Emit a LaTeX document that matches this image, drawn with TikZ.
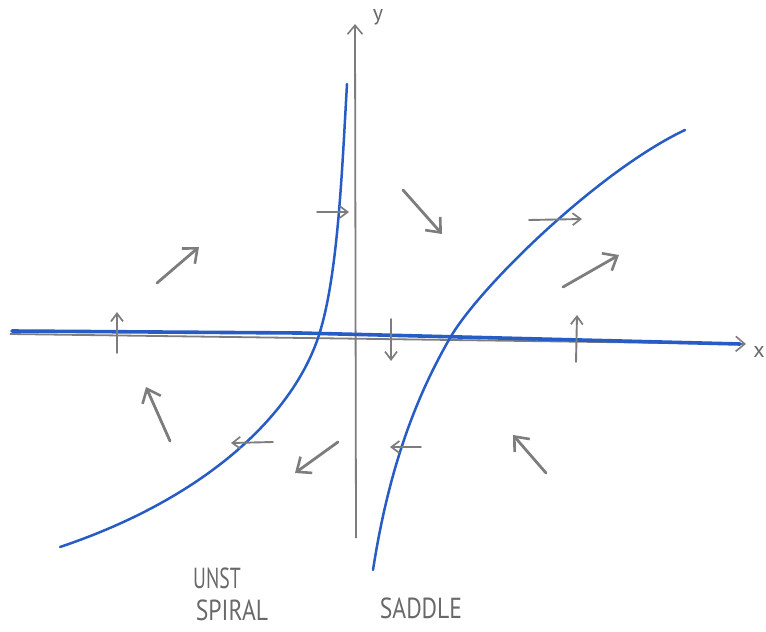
\documentclass[tikz,border=0pt]{standalone}
\usepackage{fontspec}
\setmainfont{PT Sans}
\usetikzlibrary{arrows.meta}
\definecolor{pen}{RGB}{125,125,125}
\definecolor{ink}{RGB}{38,92,196}
\definecolor{txt}{RGB}{105,105,105}
\tikzset{
  axisline/.style={draw=pen, line width=1.8pt, -{Straight Barb[length=9pt,width=15pt,line width=1.6pt]}},
  flow/.style={draw=pen, line width=2.8pt, line cap=round, -{Straight Barb[length=12pt,width=20pt,line width=2.6pt]}},
  smallflow/.style={draw=pen, line width=1.9pt, line cap=round, -{Straight Barb[length=8pt,width=12pt,line width=1.7pt]}},
  orbit/.style={draw=ink, line width=2.5pt, line cap=round},
  lbl/.style={text=txt, font=\fontsize{29}{29}\selectfont, inner sep=0pt, xscale=0.68}
}
\begin{document}
\begin{tikzpicture}[x=1pt,y=-1pt]
\useasboundingbox (0,0) rectangle (766,632);
% axes
\coordinate (xs) at (10,334);
\coordinate (xe) at (746,344);
\coordinate (ys) at (356,538);
\coordinate (ye) at (355,24);
\draw[axisline] (xs) -- (xe);
\draw[axisline] (ys) -- (ye);
\node[text=txt, font=\fontsize{22}{22}\selectfont, inner sep=0pt] (xl) at (759,352) {x};
\node[text=txt, font=\fontsize{22}{22}\selectfont, inner sep=0pt] (yl) at (378,17) {y};
% blue x-axis invariant line
\draw[ink, line width=3.6pt, line cap=round] (12,331) -- (300,333) -- (740,344);
% left orbit
\draw[orbit] (60,547) .. controls (200,500) and (290,420) .. (318,338)
                      .. controls (338,279) and (342,170) .. (347,84);
% right orbit
\draw[orbit] (373,570) .. controls (390,460) and (420,390) .. (450,338)
                       .. controls (480,286) and (600,170) .. (685,130);
% flow arrows
\coordinate (a1s) at (157,283); \coordinate (a1e) at (199,247);
\coordinate (a2s) at (317,212); \coordinate (a2e) at (349,212);
\coordinate (a3s) at (403,190); \coordinate (a3e) at (442,234);
\coordinate (a4s) at (529,220); \coordinate (a4e) at (582,219);
\coordinate (a5s) at (563,287); \coordinate (a5e) at (619,255);
\coordinate (a6s) at (117,353); \coordinate (a6e) at (117,312);
\coordinate (a7s) at (391,319); \coordinate (a7e) at (391,361);
\coordinate (a8s) at (576,362); \coordinate (a8e) at (577,315);
\coordinate (a9s) at (170,441); \coordinate (a9e) at (146,387);
\coordinate (a10s) at (273,442); \coordinate (a10e) at (231,443);
\coordinate (a11s) at (338,442); \coordinate (a11e) at (295,473);
\coordinate (a12s) at (421,447); \coordinate (a12e) at (390,447);
\coordinate (a13s) at (546,473); \coordinate (a13e) at (513,435);
\draw[flow] (a1s) -- (a1e);
\draw[smallflow] (a2s) -- (a2e);
\draw[flow] (a3s) -- (a3e);
\draw[smallflow] (a4s) -- (a4e);
\draw[flow] (a5s) -- (a5e);
\draw[smallflow] (a6s) -- (a6e);
\draw[smallflow] (a7s) -- (a7e);
\draw[smallflow] (a8s) -- (a8e);
\draw[flow] (a9s) -- (a9e);
\draw[smallflow] (a10s) -- (a10e);
\draw[flow] (a11s) -- (a11e);
\draw[smallflow] (a12s) -- (a12e);
\draw[flow] (a13s) -- (a13e);
% labels
\node[lbl] (unst) at (217,578) {UNST};
\node[lbl, xscale=1.2] (spiral) at (232,610) {SPIRAL};
\node[lbl, xscale=1.2] (saddle) at (421,608) {SADDLE};
\end{tikzpicture}
\end{document}
